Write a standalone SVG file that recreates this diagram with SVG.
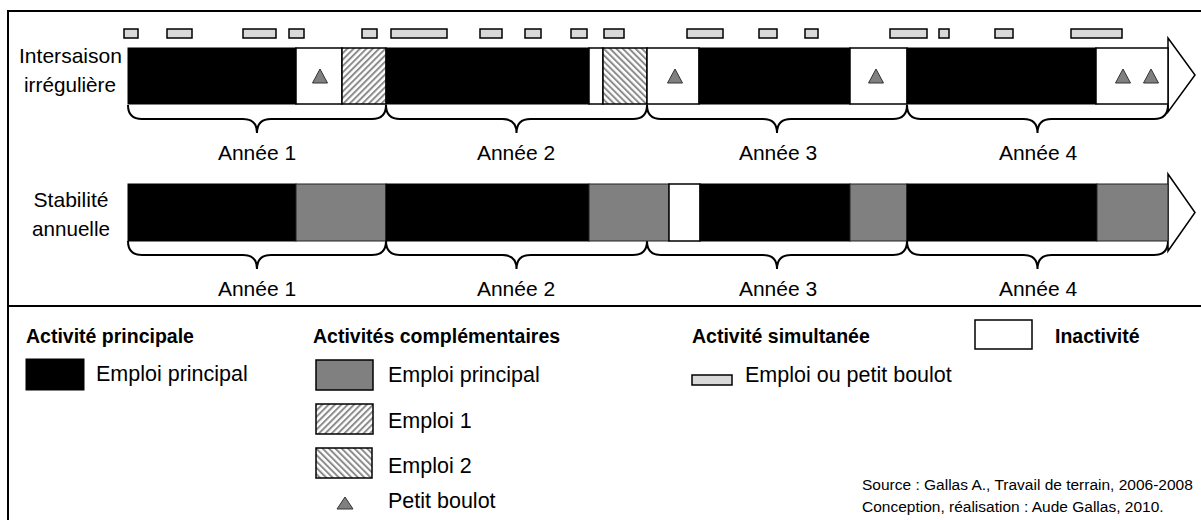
<svg xmlns="http://www.w3.org/2000/svg" width="1201" height="520" viewBox="0 0 1201 520">
<style>
text{font-family:"Liberation Sans",Arial,sans-serif;fill:#000}
.lab{font-size:21px}
.yr{font-size:21px;text-anchor:middle}
.hd{font-size:19.5px;font-weight:bold}
.lg{font-size:21.5px}
.src{font-size:15.5px}
.blk{fill:#000;stroke:#000;stroke-width:1}
.wht{fill:#fff;stroke:#000;stroke-width:1.5}
.gry{fill:#808080;stroke:#222;stroke-width:1}
.h1{fill:url(#h1);stroke:#000;stroke-width:1.5}
.h2{fill:url(#h2);stroke:#000;stroke-width:1.5}
.sm{fill:#d9d9d9;stroke:#000;stroke-width:1.5}
.tri{fill:#808080;stroke:#333;stroke-width:1}
.brace{fill:none;stroke:#000;stroke-width:2}
.arr{fill:#fff;stroke:#000;stroke-width:1.5;stroke-linejoin:miter}
</style>
<defs>
<pattern id="h1" width="4.5" height="4.5" patternUnits="userSpaceOnUse" patternTransform="rotate(45)"><rect width="4.5" height="4.5" fill="#fff"/><line x1="1" y1="0" x2="1" y2="4.5" stroke="#8c8c8c" stroke-width="2"/></pattern>
<pattern id="h2" width="4.5" height="4.5" patternUnits="userSpaceOnUse" patternTransform="rotate(-45)"><rect width="4.5" height="4.5" fill="#fff"/><line x1="1" y1="0" x2="1" y2="4.5" stroke="#8c8c8c" stroke-width="2"/></pattern>
</defs>
<rect x="0" y="0" width="1201" height="520" fill="#fff"/>
<rect x="8" y="11" width="1200" height="520" fill="none" stroke="#000" stroke-width="2"/>
<line x1="8" y1="306" x2="1201" y2="306" stroke="#000" stroke-width="2"/>

<g id="row1-label">
<text class="lab" x="70.5" y="63" text-anchor="middle" textLength="103" lengthAdjust="spacingAndGlyphs">Intersaison</text>
<text class="lab" x="70" y="92" text-anchor="middle" textLength="92" lengthAdjust="spacingAndGlyphs">irrégulière</text>
</g>
<g id="row1-simultaneous">
<rect class="sm" x="124" y="29" width="14" height="9"/>
<rect class="sm" x="167" y="29" width="25" height="9"/>
<rect class="sm" x="243" y="29" width="33" height="9"/>
<rect class="sm" x="289" y="29" width="15" height="9"/>
<rect class="sm" x="362" y="29" width="15" height="9"/>
<rect class="sm" x="391" y="29" width="56" height="9"/>
<rect class="sm" x="480" y="29" width="22" height="9"/>
<rect class="sm" x="525" y="29" width="16" height="9"/>
<rect class="sm" x="571" y="29" width="16" height="9"/>
<rect class="sm" x="604" y="29" width="20" height="9"/>
<rect class="sm" x="687" y="29" width="36" height="9"/>
<rect class="sm" x="759" y="29" width="18" height="9"/>
<rect class="sm" x="805" y="29" width="13" height="9"/>
<rect class="sm" x="890" y="29" width="37" height="9"/>
<rect class="sm" x="939" y="29" width="10" height="9"/>
<rect class="sm" x="995" y="29" width="18" height="9"/>
<rect class="sm" x="1071" y="29" width="51" height="9"/>
</g>
<g id="row1-bar">
<polygon class="arr" points="1168,38 1195,75 1168,112"/>
<rect class="blk" x="128" y="48" width="168" height="56"/>
<rect class="wht" x="296" y="48" width="46" height="56"/>
<rect class="h1" x="342" y="48" width="44" height="56"/>
<rect class="blk" x="386" y="48" width="203" height="56"/>
<rect class="wht" x="589" y="48" width="14" height="56"/>
<rect class="h2" x="603" y="48" width="44" height="56"/>
<rect class="wht" x="647" y="48" width="52" height="56"/>
<rect class="blk" x="699" y="48" width="151" height="56"/>
<rect class="wht" x="850" y="48" width="57" height="56"/>
<rect class="blk" x="907" y="48" width="189" height="56"/>
<rect class="wht" x="1096" y="48" width="72" height="56"/>
<polygon class="tri" points="312.5,83 320,69 327.5,83"/>
<polygon class="tri" points="667.5,83 675,69 682.5,83"/>
<polygon class="tri" points="868.5,83 876,69 883.5,83"/>
<polygon class="tri" points="1115.5,83 1123,69 1130.5,83"/>
<polygon class="tri" points="1143.5,83 1151,69 1158.5,83"/>
</g>
<g id="connectors">
<path class="brace" d="M128,105 Q128,119 142,119 L243,119 Q257,119 257,133 Q257,119 271,119 L372,119 Q386,119 386,105"/>
<path class="brace" d="M386,105 Q386,119 400,119 L502.5,119 Q516.5,119 516.5,133 Q516.5,119 530.5,119 L633,119 Q647,119 647,105"/>
<path class="brace" d="M647,105 Q647,119 661,119 L763,119 Q777,119 777,133 Q777,119 791,119 L893,119 Q907,119 907,105"/>
<path class="brace" d="M907,105 Q907,119 921,119 L1023.5,119 Q1037.5,119 1037.5,133 Q1037.5,119 1051.5,119 L1154,119 Q1168,119 1168,105"/>
<path class="brace" d="M128,241 Q128,255 142,255 L243,255 Q257,255 257,269 Q257,255 271,255 L372,255 Q386,255 386,241"/>
<path class="brace" d="M386,241 Q386,255 400,255 L502.5,255 Q516.5,255 516.5,269 Q516.5,255 530.5,255 L633,255 Q647,255 647,241"/>
<path class="brace" d="M647,241 Q647,255 661,255 L763,255 Q777,255 777,269 Q777,255 791,255 L893,255 Q907,255 907,241"/>
<path class="brace" d="M907,241 Q907,255 921,255 L1023.5,255 Q1037.5,255 1037.5,269 Q1037.5,255 1051.5,255 L1154,255 Q1168,255 1168,241"/>
</g>
<g id="row1-years">
<text class="yr" x="257" y="160">Année 1</text>
<text class="yr" x="516" y="160">Année 2</text>
<text class="yr" x="778" y="160">Année 3</text>
<text class="yr" x="1038" y="160">Année 4</text>
</g>

<g id="row2-label">
<text class="lab" x="71" y="207" text-anchor="middle" textLength="75" lengthAdjust="spacingAndGlyphs">Stabilité</text>
<text class="lab" x="71" y="236" text-anchor="middle" textLength="78" lengthAdjust="spacingAndGlyphs">annuelle</text>
</g>
<g id="row2-bar">
<polygon class="arr" points="1168,174 1195,212.5 1168,251"/>
<rect class="blk" x="128" y="184" width="168" height="57"/>
<rect class="gry" x="296" y="184" width="90" height="57"/>
<rect class="blk" x="386" y="184" width="203" height="57"/>
<rect class="gry" x="589" y="184" width="80" height="57"/>
<rect class="wht" x="669" y="184" width="31" height="57"/>
<rect class="blk" x="700" y="184" width="150" height="57"/>
<rect class="gry" x="850" y="184" width="57" height="57"/>
<rect class="blk" x="907" y="184" width="190" height="57"/>
<rect class="gry" x="1097" y="184" width="71" height="57"/>
</g>
<g id="row2-years">
<text class="yr" x="257" y="296">Année 1</text>
<text class="yr" x="516" y="296">Année 2</text>
<text class="yr" x="778" y="296">Année 3</text>
<text class="yr" x="1038" y="296">Année 4</text>
</g>

<g id="legend-principale">
<text class="hd" x="26" y="343">Activité principale</text>
<rect class="blk" x="26" y="359" width="58" height="31"/>
<text class="lg" x="96" y="381">Emploi principal</text>
</g>
<g id="legend-complementaires">
<text class="hd" x="313" y="343">Activités complémentaires</text>
<rect class="gry" x="316" y="360" width="57" height="30" style="stroke:#000;stroke-width:1.5"/>
<text class="lg" x="388" y="382">Emploi principal</text>
<rect class="h1" x="316" y="404" width="57" height="30"/>
<text class="lg" x="388" y="428">Emploi 1</text>
<rect class="h2" x="316" y="448" width="56" height="30"/>
<text class="lg" x="388" y="473">Emploi 2</text>
<polygon class="tri" points="337,509 345,497 353,509"/>
<text class="lg" x="388" y="508">Petit boulot</text>
</g>
<g id="legend-simultanee">
<text class="hd" x="692" y="343">Activité simultanée</text>
<rect class="sm" x="692" y="375" width="40" height="10"/>
<text class="lg" x="745" y="382">Emploi ou petit boulot</text>
</g>
<g id="legend-inactivite">
<rect class="wht" x="975" y="320" width="57" height="29"/>
<text class="hd" x="1055" y="343">Inactivité</text>
</g>
<g id="source">
<text class="src" x="862" y="490">Source : Gallas A., Travail de terrain, 2006-2008</text>
<text class="src" x="862" y="512">Conception, réalisation : Aude Gallas, 2010.</text>
</g>
</svg>
